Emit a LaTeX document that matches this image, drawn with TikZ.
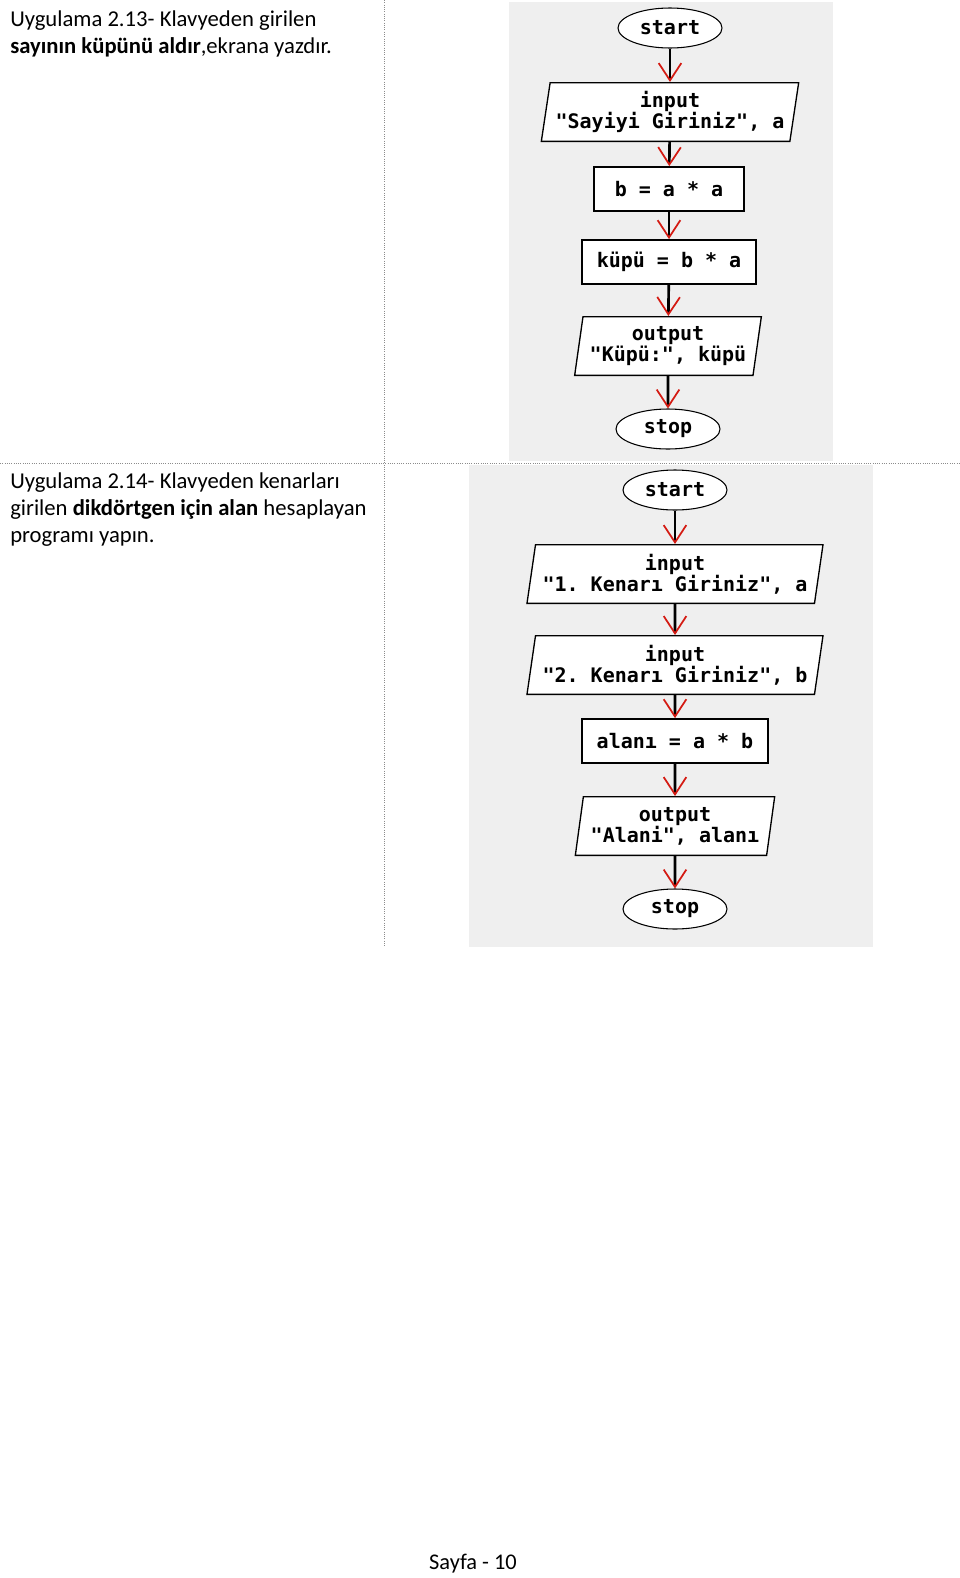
\documentclass[tikz,border=0pt]{standalone}
\usepackage{fontspec}
\setmainfont{Carlito}
\setmonofont{DejaVu Sans Mono}
\usetikzlibrary{arrows.meta,shapes.geometric}
\definecolor{panel}{HTML}{EFEFEF}
\definecolor{rule}{HTML}{8C8C8C}
\definecolor{tipred}{HTML}{D41A12}
\begin{document}
\begin{tikzpicture}[x=0.75pt,y=-0.75pt,inner sep=0pt,
chart/.style={font=\ttfamily\bfseries\fontsize{15}{15.75}\selectfont,fill=white,align=center},
term/.style={chart,ellipse,draw,line width=.8pt,minimum width=78pt,minimum height=30pt},
proc/.style={chart,draw,line width=1.3pt,minimum height=33pt},
io/.style={chart,trapezium,trapezium left angle=78,trapezium right angle=102,trapezium stretches body,draw,line width=1pt,minimum height=44pt},
flow/.style={line width=2pt,-{Straight Barb[color=tipred,length=13pt,width=17pt,line width=1.3pt]}},
divider/.style={draw=rule,densely dotted,line width=.7pt},
note/.style={anchor=north west,align=left,font=\fontsize{17}{20.5}\selectfont}]
\useasboundingbox (0,0) rectangle (960,1578);
\fill[panel] (509,2) rectangle (833,461);
\fill[panel] (469,465) rectangle (873,947);
\draw[divider] (384,0) -- (384,946);
\draw[divider] (0,463) -- (960,463);
\node[note] (task1) at (10,10) {Uygulama 2.13- Klavyeden girilen\\\textbf{sayının küpünü aldır},ekrana yazdır.};
\node[note] (task2) at (10,472) {Uygulama 2.14- Klavyeden kenarları\\girilen \textbf{dikdörtgen için alan} hesaplayan\\programı yapın.};
\node[term] (start1) at (670,28) {start};
\node[io,minimum width=193pt] (read1) at (670,112) {input\\"Sayiyi Giriniz", a};
\node[proc,minimum width=112.5pt] (square) at (669,189) {b = a * a};
\node[proc,minimum width=130.5pt] (cube) at (669,262) {küpü = b * a};
\node[io,minimum width=140pt] (show1) at (668,346) {output\\"Küpü:", küpü};
\node[term] (stop1) at (668,429) {stop};
\draw[flow] (start1)--(read1);
\draw[flow] (read1)--(square);
\draw[flow] (square)--(cube);
\draw[flow] (cube)--(show1);
\draw[flow] (show1)--(stop1);
\node[term] (start2) at (675,490) {start};
\node[io,minimum width=222pt] (reada) at (675,574) {input\\"1. Kenarı Giriniz", a};
\node[io,minimum width=222pt] (readb) at (675,665) {input\\"2. Kenarı Giriniz", b};
\node[proc,minimum width=140pt] (area) at (675,741) {alanı = a * b};
\node[io,minimum width=149.5pt] (show2) at (675,826) {output\\"Alani", alanı};
\node[term] (stop2) at (675,909) {stop};
\draw[flow] (start2)--(reada);
\draw[flow] (reada)--(readb);
\draw[flow] (readb)--(area);
\draw[flow] (area)--(show2);
\draw[flow] (show2)--(stop2);
\node[font=\fontsize{16.8}{18}\selectfont] (pageno) at (473,1564) {Sayfa - 10};
\end{tikzpicture}
\end{document}
